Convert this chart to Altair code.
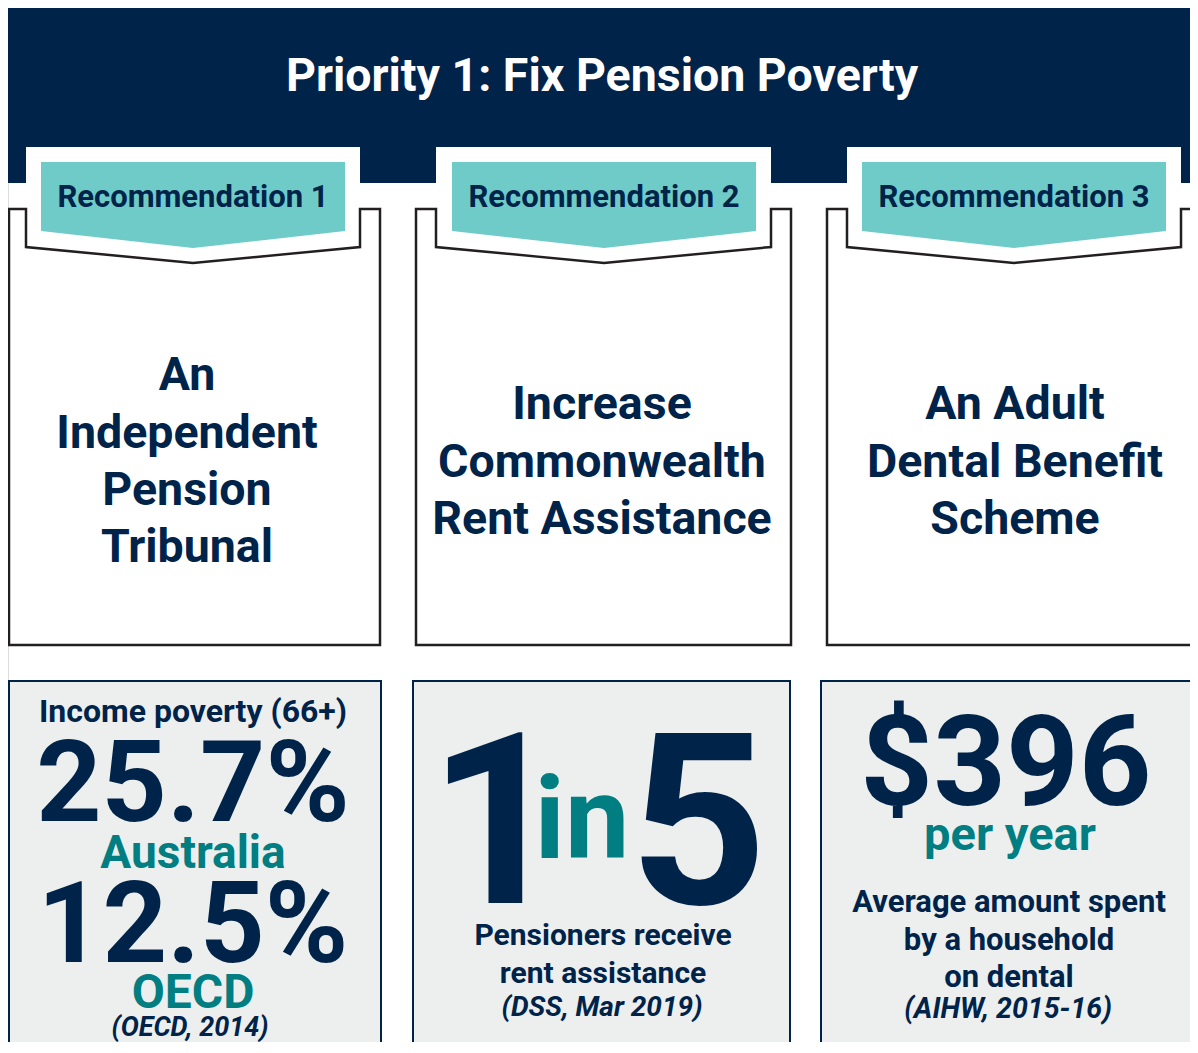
import altair as alt
import pandas as pd

# ---------------- content ----------------
TITLE = "Priority 1: Fix Pension Poverty"
REC_LABELS = ["Recommendation 1", "Recommendation 2", "Recommendation 3"]
REC_LINES = [
    ["An", "Independent", "Pension", "Tribunal"],
    ["Increase", "Commonwealth", "Rent Assistance"],
    ["An Adult", "Dental Benefit", "Scheme"],
]
STAT1 = ["Income poverty (66+)", "25.7%", "Australia", "12.5%", "OECD"]
SRC1 = "(OECD, 2014)"
STAT2_BIG = ["1", "in", "5"]
STAT2 = ["Pensioners receive", "rent assistance"]
SRC2 = "(DSS, Mar 2019)"
STAT3 = ["$396", "per year", "Average amount spent", "by a household", "on dental"]
SRC3 = "(AIHW, 2015-16)"

# ---------------- colours ----------------
NAVY = "#00234A"
TEAL = "#007E82"
TEAL_LIGHT = "#6FCBC8"
BOX_FILL = "#EDEFEE"
OUTLINE = "#231F20"
FONT = "Roboto"

# ---------------- layout (pixel space of the page) ----------------
X0, Y0 = 8, 8            # page margin: plot origin on the page
PW, PH = 1182, 1034      # plot size (fits the window without scrolling)
PANEL_LEFT = [9, 416, 827]
PANEL_RIGHT = [380, 791, 1201]
TAB_L = [26, 436, 847]
TAB_R = [360, 771, 1181]
CHEV_L = [41, 452, 862]
CHEV_R = [345, 756, 1166]
CENTERS = [193, 604, 1014]
BANNER = dict(x=0, x2=1215, y=3, y2=183)
TAB_TOP, CHEV_TOP, OUT_TOP = 147, 162, 209
CHEV_SIDE, CHEV_TIP = 231, 248
OUT_SIDE, OUT_TIP = 247, 263
OUT_BOTTOM = 645
BOX_LEFT = [9, 413, 821]
BOX_RIGHT = [381, 790, 1215]
BOX_TOP, BOX_BOTTOM = 681, 1070
REC_BASE_Y = 207
TEXT_X = [187, 602, 1015]
LINE_BASE = [[390, 448, 505, 562], [419, 477, 534], [419, 477, 534]]

xs = alt.Scale(domain=[X0, X0 + PW], nice=False, zero=False)
ys = alt.Scale(domain=[Y0, Y0 + PH], nice=False, zero=False, reverse=True)


def X(f="x"):
    return alt.X(f"{f}:Q", scale=xs, axis=None)


def Y(f="y"):
    return alt.Y(f"{f}:Q", scale=ys, axis=None)


# banner
banner = alt.Chart(pd.DataFrame([BANNER])).mark_rect(color=NAVY).encode(
    x=X(), x2="x2:Q", y=Y(), y2="y2:Q"
)

# white tabs, teal chevrons, outlines
tab_rows, chev_rows, out_rows = [], [], []
for i in range(3):
    l, r, c = PANEL_LEFT[i], PANEL_RIGHT[i], CENTERS[i]
    tl, tr = TAB_L[i], TAB_R[i]
    for xx, yy in [(tl, OUT_SIDE), (c, OUT_TIP), (tr, OUT_SIDE)]:
        tab_rows.append(dict(p=i, x=xx, y=yy, y2=TAB_TOP))
    for xx, yy in [(CHEV_L[i], CHEV_SIDE), (c, CHEV_TIP), (CHEV_R[i], CHEV_SIDE)]:
        chev_rows.append(dict(p=i, x=xx, y=yy, y2=CHEV_TOP))
    pts = [
        (l, OUT_BOTTOM), (l, OUT_TOP), (tl, OUT_TOP), (tl, OUT_SIDE),
        (c, OUT_TIP), (tr, OUT_SIDE), (tr, OUT_TOP), (r, OUT_TOP),
        (r, OUT_BOTTOM), (l, OUT_BOTTOM),
    ]
    for k, (xx, yy) in enumerate(pts):
        out_rows.append(dict(p=i, o=k, x=xx, y=yy))

tabs = alt.Chart(pd.DataFrame(tab_rows)).mark_area(color="white", opacity=1).encode(
    x=X(), y=Y(), y2="y2:Q", detail="p:N"
)
chevs = alt.Chart(pd.DataFrame(chev_rows)).mark_area(color=TEAL_LIGHT, opacity=1).encode(
    x=X(), y=Y(), y2="y2:Q", detail="p:N"
)
outline = alt.Chart(pd.DataFrame(out_rows)).mark_line(
    color=OUTLINE, strokeWidth=2.5, strokeJoin="miter", strokeCap="square"
).encode(x=X(), y=Y(), order="o:Q", detail="p:N")

# stat boxes
box_df = pd.DataFrame(
    [dict(x=a, x2=b, y=BOX_TOP, y2=BOX_BOTTOM) for a, b in zip(BOX_LEFT, BOX_RIGHT)]
)
boxes = alt.Chart(box_df).mark_rect(fill=BOX_FILL, stroke=NAVY, strokeWidth=2).encode(
    x=X(), x2="x2:Q", y=Y(), y2="y2:Q"
)

# ---------------- text ----------------
bold_rows = [dict(t=TITLE, x=602, y=91, s=46.5, c="white")]
for lab, c in zip(REC_LABELS, CENTERS):
    bold_rows.append(dict(t=lab, x=c, y=REC_BASE_Y, s=31, c=NAVY))
for lines, bases, c in zip(REC_LINES, LINE_BASE, TEXT_X):
    for t, b in zip(lines, bases):
        bold_rows.append(dict(t=t, x=c, y=b, s=46.5, c=NAVY))

# stat 1
for t, yy, s, col in zip(STAT1, [722, 821, 868, 962, 1008], [32, 114, 46, 113, 48],
                         [NAVY, NAVY, TEAL, NAVY, TEAL]):
    bold_rows.append(dict(t=t, x=193, y=yy, s=s, c=col))
# stat 2
for t, xx, yy, s, col in zip(STAT2_BIG, [497, 582, 698], [903, 858, 904], [240, 115, 240],
                             [NAVY, TEAL, NAVY]):
    bold_rows.append(dict(t=t, x=xx, y=yy, s=s, c=col))
for t, yy in zip(STAT2, [945, 983]):
    bold_rows.append(dict(t=t, x=603, y=yy, s=30, c=NAVY))
# stat 3
for t, xx, yy, s, col in zip(STAT3, [1006, 1010, 1009, 1009, 1009],
                             [805, 850, 912, 950, 987], [127, 47, 31, 31, 31],
                             [NAVY, TEAL, NAVY, NAVY, NAVY]):
    bold_rows.append(dict(t=t, x=xx, y=yy, s=s, c=col))

ital_rows = [
    dict(t=SRC1, x=190, y=1036, s=27, c=NAVY),
    dict(t=SRC2, x=602, y=1016, s=28, c=NAVY),
    dict(t=SRC3, x=1008, y=1018, s=28.5, c=NAVY),
]


def text_layer(rows, style):
    return alt.Chart(pd.DataFrame(rows)).mark_text(
        font=FONT, fontWeight="bold", fontStyle=style, align="center", baseline="alphabetic"
    ).encode(
        x=X(), y=Y(), text="t:N",
        size=alt.Size("s:Q", scale=None),
        color=alt.Color("c:N", scale=None),
    )


chart = alt.layer(
    banner, tabs, chevs, outline, boxes,
    text_layer(bold_rows, "normal"), text_layer(ital_rows, "italic"),
).properties(
    width=PW, height=PH, autosize="none", padding=0,
).configure_view(stroke=None).configure(background="white")

chart.save("out.html", embed_options={"renderer": "svg", "actions": False})
